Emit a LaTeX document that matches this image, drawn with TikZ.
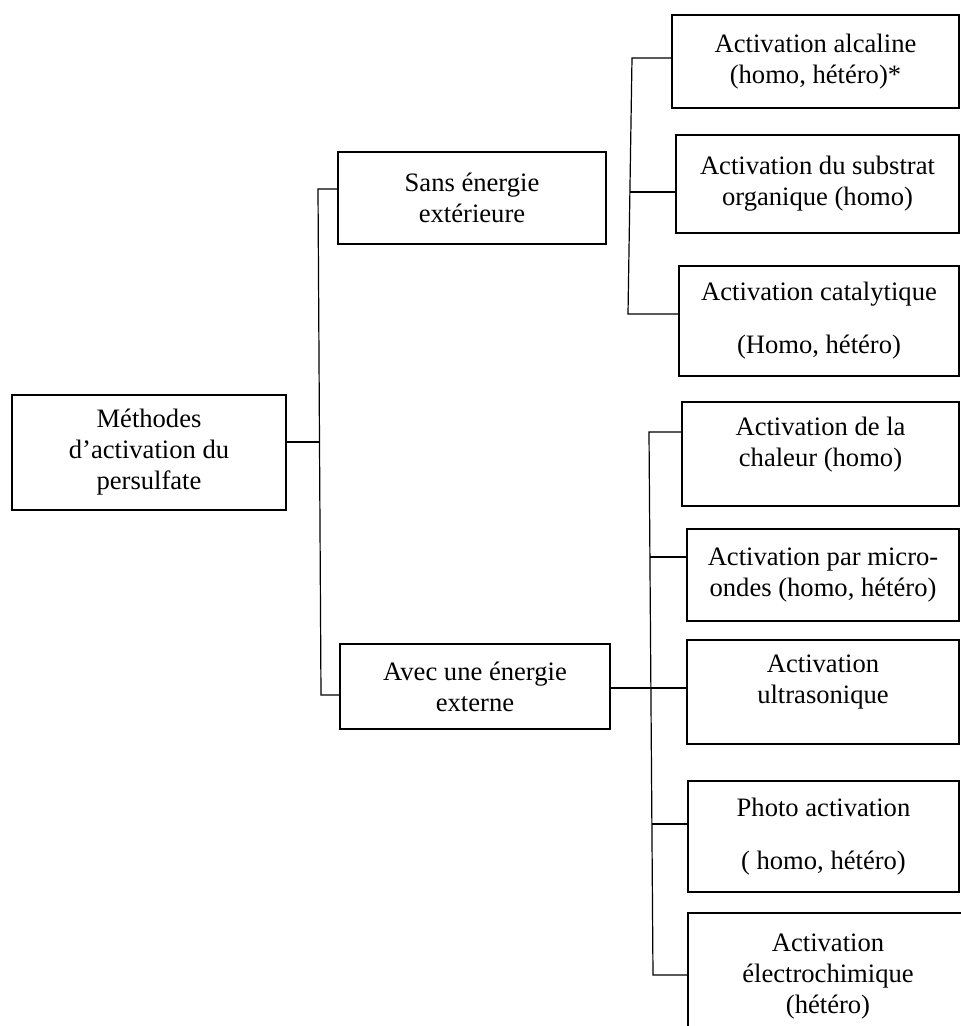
\documentclass[tikz,border=0pt]{standalone}
\usepackage{fontspec}
\setmainfont{Liberation Serif}
\begin{document}
\begin{tikzpicture}[x=1pt,y=-1pt,
  box/.style={draw, line width=2.5pt, rectangle, inner sep=0pt, align=center,
    font=\fontsize{26.6}{31}\selectfont},
  conn/.style={line width=1.2pt}]
\useasboundingbox (0,0) rectangle (961,1026);

% root and level 1
\node[box, minimum width=274pt, minimum height=115pt] (M) at (149,452.5) {Méthodes\\d’activation du\\persulfate};
\node[box, minimum width=268pt, minimum height=92pt] (S) at (472,198) {Sans énergie\\extérieure};
\node[box, minimum width=270pt, minimum height=85pt] (A) at (475,686.5) {Avec une énergie\\externe};

% level 2, top group
\node[box, minimum width=287pt, minimum height=93pt] (b1) at (815.5,61.5) {Activation alcaline\\(homo, hétéro)*};
\node[box, minimum width=283pt, minimum height=98pt] (b2) at (817.5,184) {Activation du substrat\\organique (homo)};
\node[box, minimum width=280pt, minimum height=110pt] (b3) at (819,321) {Activation catalytique\\[22pt](Homo, hétéro)};

% level 2, bottom group
\node[box, minimum width=277pt, minimum height=104pt, text depth=25pt] (b4) at (820.5,454) {Activation de la\\chaleur (homo)};
\node[box, minimum width=272pt, minimum height=92pt] (b5) at (823,575) {Activation par micro-\\ondes (homo, hétéro)};
\node[box, minimum width=272pt, minimum height=104pt, text depth=26pt] (b6) at (823,692) {Activation\\ultrasonique};
\node[box, minimum width=271pt, minimum height=111pt] (b7) at (823.5,836.5) {Photo activation\\[22pt]( homo, hétéro)};
\node[box, minimum width=280pt, minimum height=127pt] (b8) at (828,976.5) {Activation\\électrochimique\\(hétéro)};

% root connectors
\coordinate (r0) at (320,442);
\coordinate (rt) at (318,189);
\coordinate (rb) at (321,695);
\draw[conn] (M.east |- r0) -- (r0);
\draw[conn] (S.west |- rt) -- (rt) -- (rb) -- (A.west |- rb);

% top group connectors
\coordinate (t1) at (632,58);
\coordinate (t2) at (630,192);
\coordinate (t3) at (628,314);
\draw[conn] (b1.west |- t1) -- (t1) -- (t3) -- (b3.west |- t3);
\draw[conn] (t2) -- (b2.west |- t2);

% bottom group connectors
\coordinate (u1) at (649,432);
\coordinate (u2) at (650,557);
\coordinate (u3) at (651,688);
\coordinate (u4) at (652,824);
\coordinate (u5) at (653,975);
\draw[conn] (b4.west |- u1) -- (u1) -- (u5) -- (b8.west |- u5);
\draw[conn] (u2) -- (b5.west |- u2);
\draw[conn] (A.east |- u3) -- (b6.west |- u3);
\draw[conn] (u4) -- (b7.west |- u4);
\end{tikzpicture}
\end{document}
